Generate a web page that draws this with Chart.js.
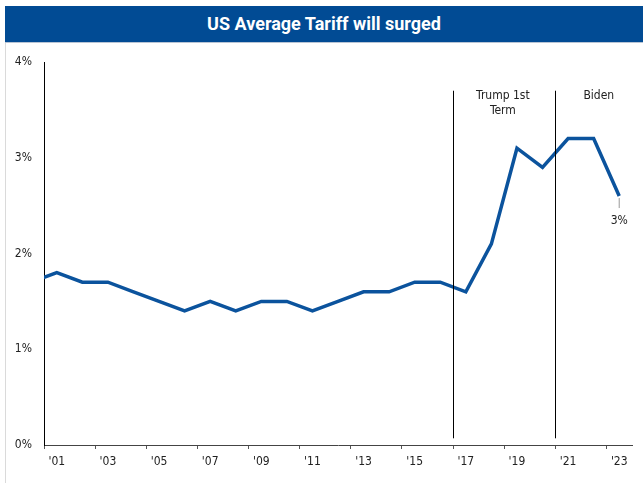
<!DOCTYPE html>
<html>
<head>
<meta charset="utf-8">
<script src="https://cdn.jsdelivr.net/npm/chart.js@4.4.1/dist/chart.umd.min.js"></script>
<style>
  body { margin: 0; background: #fff; width: 643px; height: 483px; overflow: hidden; position: relative; }
  #title {
    position: absolute; left: 5px; top: 6px; width: 638px; height: 36px;
    background: #014b94; color: #fff; font: bold 18px "Roboto", "Liberation Sans", sans-serif;
    text-align: center; line-height: 36px; border-bottom: 1px solid #b8c4d4;
  }
  #edge { position: absolute; left: 5px; top: 43px; width: 1px; height: 440px; background: #dadada; }
  #wrap { position: absolute; left: 6px; top: 42px; width: 637px; height: 441px; }
</style>
</head>
<body>
<div id="title">US Average Tariff will surged</div>
<div id="edge"></div>
<div id="wrap"><canvas id="tariffChart"></canvas></div>
<script>
// Data
const years = [2000, 2001, 2002, 2003, 2004, 2005, 2006, 2007, 2008, 2009, 2010, 2011,
               2012, 2013, 2014, 2015, 2016, 2017, 2018, 2019, 2020, 2021, 2022, 2023];
const tariff = [1.7, 1.8, 1.7, 1.7, 1.6, 1.5, 1.4, 1.5, 1.4, 1.5, 1.5, 1.4,
                1.5, 1.6, 1.6, 1.7, 1.7, 1.6, 2.1, 3.1, 2.9, 3.2, 3.2, 2.6];
const yTicks = [0, 1, 2, 3, 4];
const termLines = [2016.5, 2020.5];
const termLabels = [
  { x: 2018.45, lines: ['Trump 1st', 'Term'] },
  { x: 2022.2, lines: ['Biden'] }
];
const lastLabel = '3%';

const font = '"Liberation Sans Narrow", "DejaVu Sans Condensed", "Liberation Sans", sans-serif';

// Draw the term separators, their labels and the end-point label
const annotations = {
  id: 'annotations',
  afterDatasetsDraw(chart) {
    const ctx = chart.ctx;
    const x = chart.scales.x, y = chart.scales.y;
    ctx.save();
    ctx.strokeStyle = '#000';
    ctx.lineWidth = 1;
    termLines.forEach(v => {
      const px = Math.round(x.getPixelForValue(v)) + 0.5;
      ctx.beginPath();
      ctx.moveTo(px, y.getPixelForValue(3.7));
      ctx.lineTo(px, y.getPixelForValue(0.07));
      ctx.stroke();
    });
    ctx.fillStyle = '#222';
    ctx.font = '12px ' + font;
    ctx.textAlign = 'center';
    ctx.textBaseline = 'middle';
    termLabels.forEach(t => {
      t.lines.forEach((s, i) => {
        ctx.fillText(s, x.getPixelForValue(t.x), y.getPixelForValue(3.65) + i * 15);
      });
    });
    // leader line and label for the last value
    const n = years.length - 1;
    const lx = x.getPixelForValue(years[n]);
    const ly = y.getPixelForValue(tariff[n]);
    ctx.strokeStyle = '#999';
    ctx.beginPath();
    ctx.moveTo(lx, ly + 2);
    ctx.lineTo(lx, ly + 12);
    ctx.stroke();
    ctx.fillText(lastLabel, lx, ly + 25);
    ctx.restore();
  }
};

new Chart(document.getElementById('tariffChart'), {
  type: 'line',
  data: {
    datasets: [{
      data: years.map((yr, i) => ({ x: yr, y: tariff[i] })),
      borderColor: '#0b539d',
      borderWidth: 3.5,
      pointRadius: 0,
      tension: 0,
      fill: false
    }]
  },
  options: {
    responsive: true,
    maintainAspectRatio: false,
    animation: false,
    layout: { padding: { top: 20, right: 11, left: 0, bottom: 0 } },
    plugins: { legend: { display: false }, tooltip: { enabled: false } },
    scales: {
      x: {
        type: 'linear',
        min: 2000.5,
        max: 2023.5,
        afterBuildTicks(scale) {
          const t = [];
          for (let v = 2000.5; v < 2023; v += 2) t.push({ value: v });
          scale.ticks = t;
        },
        afterFit(scale) { scale.height = 38; },
        grid: { drawOnChartArea: false, drawTicks: true, tickLength: 4, tickColor: '#555' },
        border: { color: '#444', width: 1 },
        ticks: {
          autoSkip: false,
          maxRotation: 0,
          padding: 6,
          labelOffset: 12.8,
          color: '#222',
          font: { family: font, size: 12 },
          callback: v => "'" + String(Math.round(v + 0.5) % 100).padStart(2, '0')
        }
      },
      y: {
        min: 0,
        max: 4,
        afterBuildTicks(scale) { scale.ticks = yTicks.map(v => ({ value: v })); },
        afterFit(scale) { scale.width = 38; },
        grid: { drawOnChartArea: false, drawTicks: false },
        border: { color: '#000', width: 1 },
        ticks: {
          padding: 12,
          color: '#222',
          font: { family: font, size: 12 },
          callback: v => v + '%'
        }
      }
    }
  },
  plugins: [annotations]
});
</script>
</body>
</html>
